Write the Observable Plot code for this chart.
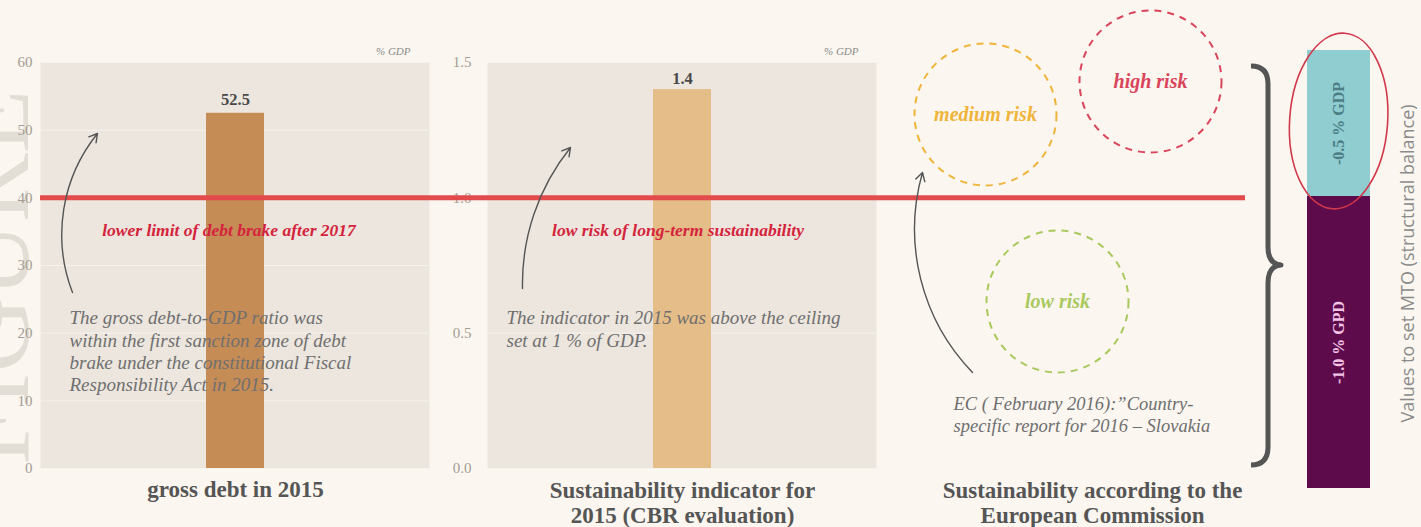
<!DOCTYPE html>
<html>
<head>
<meta charset="utf-8">
<script src="https://cdn.jsdelivr.net/npm/d3@7"></script>
<script src="https://cdn.jsdelivr.net/npm/@observablehq/plot@0.6"></script>
<style>
  html, body { margin: 0; padding: 0; background: #fbf6ef; }
  #chart { position: relative; width: 1421px; height: 527px; overflow: hidden; background: #fbf6ef; }
  #chart svg { position: absolute; top: 0; overflow: visible; background: transparent; }
</style>
</head>
<body>
<div id="chart"></div>
<script>
// ---- data ----
const debtCategory = ["gross debt in 2015"];
const debtValues = [52.5];
const debtTicks = [0, 10, 20, 30, 40, 50, 60];
const debtBrakeLimit = 40;
const debtBrakeLabel = "lower limit of debt brake after 2017";
const debtNote = "The gross debt-to-GDP ratio was\nwithin the first sanction zone of debt\nbrake under the constitutional Fiscal\nResponsibility Act in 2015.";

const sustCategory = ["Sustainability indicator for\n2015 (CBR evaluation)"];
const sustValues = [1.4];
const sustTicks = [0, 0.5, 1.0, 1.5];
const sustCeiling = 1.0;
const sustLabel = "low risk of long-term sustainability";
const sustNote = "The indicator in 2015 was above the ceiling\nset at 1 % of GDP.";

const riskLevels = ["medium risk", "high risk", "low risk"];
const ecTitle = "Sustainability according to the\nEuropean Commission";
const ecNote = "EC ( February 2016):\u201DCountry-\nspecific report for 2016 \u2013 Slovakia";

const mtoLabels = ["-1.0 % GPD", "-0.5 % GDP"];
const mtoValues = [-1.0, -0.5];
const mtoTitle = "Values to set MTO (structural balance)";

// ---- styles ----
const W = 1421, H = 527;
const serif = "'Liberation Serif', 'DejaVu Serif', serif";
const sans = "'Open Sans', 'Noto Sans', sans-serif";
const ink = "#555555";
const noteInk = "#6f6f6f";
const tickInk = "#a39c93";
const red = "#e24a4c";
const redText = "#d5233c";
const frameFill = "#ece6de";
const gridStroke = "#f6f2ec";
const riskColor = {"medium risk": "#efb43a", "high risk": "#d9455b", "low risk": "#a9c95e"};
const mtoFill = {"-1.0 % GPD": "#5e0b4c", "-0.5 % GDP": "#8fcdd1"};
const mtoInk = {"-1.0 % GPD": "#f3c4e6", "-0.5 % GDP": "#4c7d86"};

const chart = document.getElementById("chart");
function place(svg, left, z) {
  svg.style.left = left + "px";
  svg.style.zIndex = z;
  chart.appendChild(svg);
}

// ---- panel: gross debt ----
const debtData = debtCategory.map((category, i) => ({category, value: debtValues[i]}));
const debtPlot = Plot.plot({
  width: 440, height: H,
  marginTop: 62, marginBottom: 59, marginLeft: 40, marginRight: 11,
  style: {background: "transparent", overflow: "visible", fontFamily: serif},
  x: {domain: debtCategory, padding: 0.74, axis: null},
  y: {domain: [0, 60], axis: null},
  marks: [
    Plot.text(["FIGURE"], {frameAnchor: "left", textAnchor: "middle", dx: -13, dy: 12, rotate: -90, fontSize: 104, fill: "#e2ddd5", lineAnchor: "bottom", fontFamily: serif}),
    Plot.frame({fill: frameFill, stroke: null}),
    Plot.gridY(debtTicks, {stroke: gridStroke, strokeOpacity: 1}),
    Plot.axisY(debtTicks, {label: null, tickSize: 0, tickPadding: 8, fontSize: 15, color: tickInk}),
    Plot.axisX({label: null, tickSize: 0, tickPadding: 12, fontSize: 23, fontWeight: "bold", color: ink}),
    Plot.barY(debtData, {x: "category", y: "value", fill: "#c68c56"}),
    Plot.text(debtData, {x: "category", y: "value", text: d => d.value.toFixed(1), dy: -14, fontSize: 16.5, fontWeight: "bold", fill: "#4a4a4a"}),
    Plot.text(["% GDP"], {frameAnchor: "top-right", dx: -19, dy: -15, fontSize: 11, fontStyle: "italic", fill: "#8a8a8a"}),
    Plot.ruleY([debtBrakeLimit], {stroke: red, strokeWidth: 5, insetRight: -816}),
    Plot.text([debtBrakeLabel], {y: debtBrakeLimit, dy: 33, dx: -6, fontSize: 17.5, fontWeight: "bold", fontStyle: "italic", fill: redText}),
    Plot.text([debtNote], {frameAnchor: "top-left", dx: 29, dy: 246, textAnchor: "start", lineAnchor: "top", lineHeight: 1.17, fontSize: 19, fontStyle: "italic", fill: noteInk})
  ]
});

// ---- panel: sustainability indicator ----
const sustData = sustCategory.map((category, i) => ({category, value: sustValues[i]}));
const sustPlot = Plot.plot({
  width: 440, height: H,
  marginTop: 62, marginBottom: 59, marginLeft: 47, marginRight: 4,
  style: {background: "transparent", overflow: "visible", fontFamily: serif},
  x: {domain: sustCategory, padding: 0.74, axis: null},
  y: {domain: [0, 1.5], axis: null},
  marks: [
    Plot.frame({fill: frameFill, stroke: null}),
    Plot.gridY(sustTicks, {stroke: gridStroke, strokeOpacity: 1}),
    Plot.axisY(sustTicks, {label: null, tickSize: 0, tickPadding: 16, fontSize: 15, color: tickInk, tickFormat: d3.format(".1f")}),
    Plot.axisX({label: null, tickSize: 0, tickPadding: 12, fontSize: 23, fontWeight: "bold", color: ink, lineHeight: 1.09}),
    Plot.barY(sustData, {x: "category", y: "value", fill: "#e5bd88"}),
    Plot.text(sustData, {x: "category", y: "value", text: d => d.value.toFixed(1), dy: -11, fontSize: 16.5, fontWeight: "bold", fill: "#4a4a4a"}),
    Plot.text(["% GDP"], {frameAnchor: "top-right", dx: -18, dy: -15, fontSize: 11, fontStyle: "italic", fill: "#8a8a8a"}),
    Plot.text([sustLabel], {y: sustCeiling, dy: 33, dx: -4, fontSize: 17.5, fontWeight: "bold", fontStyle: "italic", fill: redText}),
    Plot.text([sustNote], {frameAnchor: "top-left", dx: 19, dy: 246, textAnchor: "start", lineAnchor: "top", lineHeight: 1.17, fontSize: 19, fontStyle: "italic", fill: noteInk})
  ]
});

// ---- panel: MTO stacked bar ----
const mtoData = mtoLabels.map((label, i) => ({label, value: mtoValues[i]}));
const mtoPlot = Plot.plot({
  width: 131, height: H,
  marginTop: 50, marginBottom: 39, marginLeft: 17, marginRight: 51,
  style: {background: "transparent", overflow: "visible", fontFamily: serif},
  x: {domain: ["MTO"], padding: 0, axis: null},
  y: {domain: [0, d3.sum(mtoValues, Math.abs)], axis: null},
  color: {type: "identity"},
  marks: [
    Plot.barY(mtoData, {x: () => "MTO", y: d => Math.abs(d.value), fill: d => mtoFill[d.label]}),
    Plot.text(mtoData, Plot.stackY({x: () => "MTO", y: d => Math.abs(d.value), text: "label", rotate: -90, fontSize: 16, fontWeight: "bold", fill: d => mtoInk[d.label]})),
    // red ellipse around the upper segment
    (index, scales) => {
      const cx = scales.x("MTO") + scales.x.bandwidth() / 2;
      const lower = Math.abs(mtoValues[0]);
      const cy = (scales.y(lower) + scales.y(lower + Math.abs(mtoValues[1]))) / 2;
      return d3.create("svg:ellipse")
        .attr("cx", cx).attr("cy", cy - 2).attr("rx", 49).attr("ry", 88)
        .attr("transform", `rotate(4 ${cx} ${cy})`)
        .attr("fill", "none").attr("stroke", "#d2384b").attr("stroke-width", 1.6)
        .node();
    },
    Plot.text([mtoTitle], {frameAnchor: "right", textAnchor: "middle", dx: 38, dy: -6, rotate: -90, fontSize: 18, fontFamily: sans, fill: "#8b8b8b"})
  ]
});

// ---- overlay: European Commission panel, arrows and brace ----
const riskSpots = {"medium risk": [985, 114], "high risk": [1150, 81], "low risk": [1057, 301]};
const riskData = riskLevels.map(level => ({level, x: riskSpots[level][0], y: riskSpots[level][1]}));
const overlay = Plot.plot({
  width: W, height: H, margin: 0,
  style: {background: "transparent", overflow: "visible", fontFamily: serif},
  x: {type: "identity", axis: null},
  y: {type: "identity", axis: null},
  color: {type: "identity"},
  marks: [
    Plot.dot(riskData, {x: "x", y: "y", r: 71, stroke: d => riskColor[d.level], strokeWidth: 2, strokeDasharray: "7,6", fill: "none"}),
    Plot.text(riskData, {x: "x", y: "y", text: "level", fill: d => riskColor[d.level], fontSize: 20, fontStyle: "italic", fontWeight: "bold"}),
    Plot.arrow([0], {x1: 72, y1: 292, x2: 97, y2: 133, bend: 30, stroke: "#555", strokeWidth: 1.4, headLength: 10}),
    Plot.arrow([0], {x1: 522, y1: 288, x2: 570, y2: 147, bend: 20, stroke: "#555", strokeWidth: 1.4, headLength: 10}),
    Plot.arrow([0], {x1: 972, y1: 372, x2: 922, y2: 172, bend: 30, stroke: "#555", strokeWidth: 1.4, headLength: 10}),
    Plot.text([ecNote], {x: 953, y: 394, textAnchor: "start", lineAnchor: "top", lineHeight: 1.19, fontSize: 18.5, fontStyle: "italic", fill: noteInk}),
    Plot.text([ecTitle], {x: 1092, y: 480, lineAnchor: "top", lineHeight: 1.09, fontSize: 23, fontWeight: "bold", fill: ink}),
    () => d3.create("svg:path")
      .attr("d", "M1251,66 Q1268,66 1268,84 L1268,247 Q1268,264 1281,265 Q1268,266 1268,283 L1268,447 Q1268,465 1251,465")
      .attr("fill", "none").attr("stroke", "#555").attr("stroke-width", 5).attr("stroke-linejoin", "round")
      .node()
  ]
});

place(sustPlot, 440, 1);
place(debtPlot, 0, 2);
place(mtoPlot, 1290, 1);
place(overlay, 0, 3);
overlay.style.pointerEvents = "none";
</script>
</body>
</html>
